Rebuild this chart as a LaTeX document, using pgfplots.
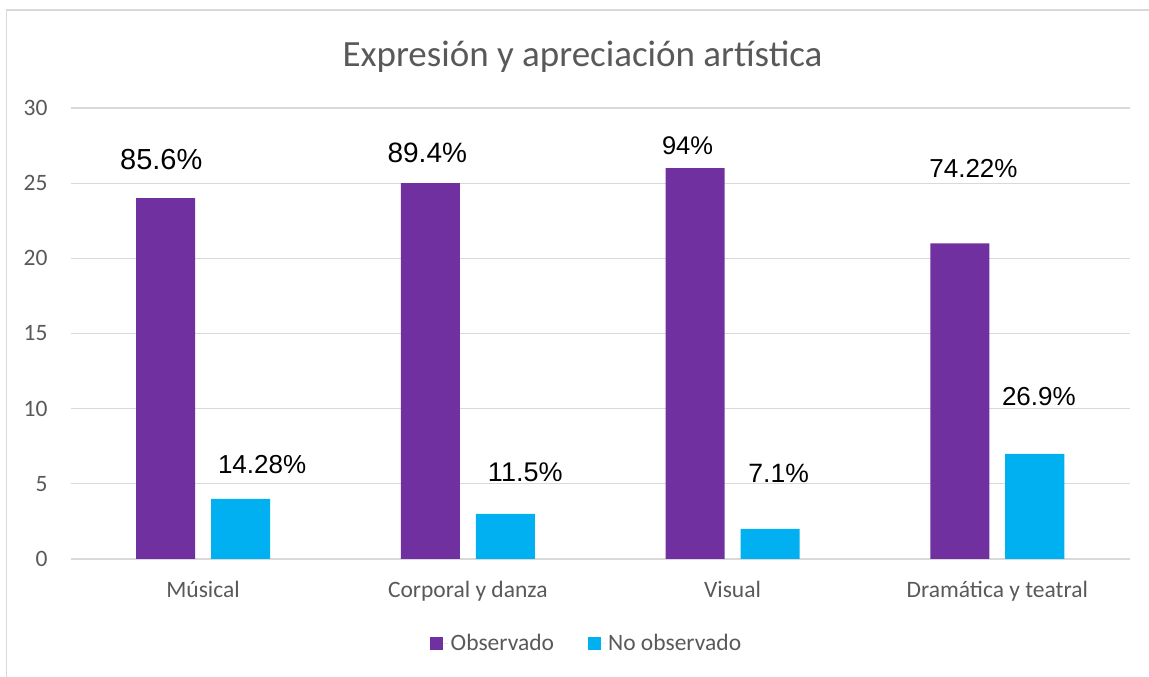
\documentclass[border=0pt]{standalone}
\usepackage{fontspec}
\setmainfont{Carlito}
\newfontfamily\lab{Liberation Sans}
\usepackage{pgfplots}
\pgfplotsset{compat=1.18}

\definecolor{obs}{HTML}{7030A0}
\definecolor{noobs}{HTML}{00B0F0}
\definecolor{gridc}{HTML}{D9D9D9}
\definecolor{txt}{HTML}{595959}

\newcommand\lbl[1]{\lab\fontsize{#1}{#1}\selectfont}

\begin{document}
\begin{tikzpicture}[x=1pt,y=1pt]
\useasboundingbox (0,0) rectangle (1149,677);
\draw[gridc,line width=1.3pt] (6.8,0) -- (6.8,667) -- (1149,667);
\node[anchor=base,text=txt,font=\fontsize{37}{44}\selectfont] at (582.5,610) {Expresión y apreciación artística};
\begin{axis}[at={(70.7pt,118pt)},anchor=south west,scale only axis,
  width=1059pt,height=451pt,
  xmin=-0.5,xmax=3.5,ymin=0,ymax=30,
  xtick={0,1,2,3},
  xticklabels={Músical,Corporal y danza,Visual,Dramática y teatral},
  ytick={0,5,...,30},
  axis line style={draw=none},
  major tick length=0pt,
  ymajorgrids,
  grid style={gridc,line width=1.2pt},
  /pgf/number format/assume math mode=true,
  ticklabel style={font=\fontsize{23.5}{28}\selectfont,text=txt},
  yticklabel style={anchor=east,inner sep=0pt,xshift=-23pt},
  xticklabel style={anchor=north,inner sep=0pt,text height=17pt,text depth=5pt,yshift=-21pt},
  legend columns=2,
  legend style={at={(0.4875,-0.1863)},anchor=center,draw=none,fill=none,
    font=\fontsize{23.5}{28}\selectfont,text=txt,
    nodes={inner sep=2.5pt},
    /tikz/every even column/.append style={column sep=31pt}},
  clip=false]
\addplot[ybar,bar width=0.223,bar shift=-0.1415,fill=obs,draw=none,
  legend image code/.code={\path (0pt,0pt) -- (18pt,0pt);
    \fill[obs] (0pt,-6.5pt) rectangle (13pt,6.5pt);}]
  coordinates {(0,24) (1,25) (2,26) (3,21)};
\addlegendentry{Observado}
\addplot[ybar,bar width=0.223,bar shift=0.1415,fill=noobs,draw=none,
  legend image code/.code={\path (0pt,0pt) -- (18pt,0pt);
    \fill[noobs] (0pt,-6.5pt) rectangle (13pt,6.5pt);}]
  coordinates {(0,4) (1,3) (2,2) (3,7)};
\addlegendentry{No observado}
\begin{scope}[every node/.style={text=black,anchor=center}]
\node[font=\lbl{29}] at (axis cs:-0.158,26.6) {85.6\%};
\node[font=\lbl{28}] at (axis cs:0.847,27.0) {89.4\%};
\node[font=\lbl{25.5}] at (axis cs:1.83,27.5) {94\%};
\node[font=\lbl{26}] at (axis cs:2.91,26.0) {74.22\%};
\node[font=\lbl{26}] at (axis cs:0.223,6.3) {14.28\%};
\node[font=\lbl{27}] at (axis cs:1.217,5.8) {11.5\%};
\node[font=\lbl{26.5}] at (axis cs:2.174,5.7) {7.1\%};
\node[font=\lbl{26}] at (axis cs:3.157,10.8) {26.9\%};
\end{scope}
\end{axis}
\end{tikzpicture}
\end{document}
